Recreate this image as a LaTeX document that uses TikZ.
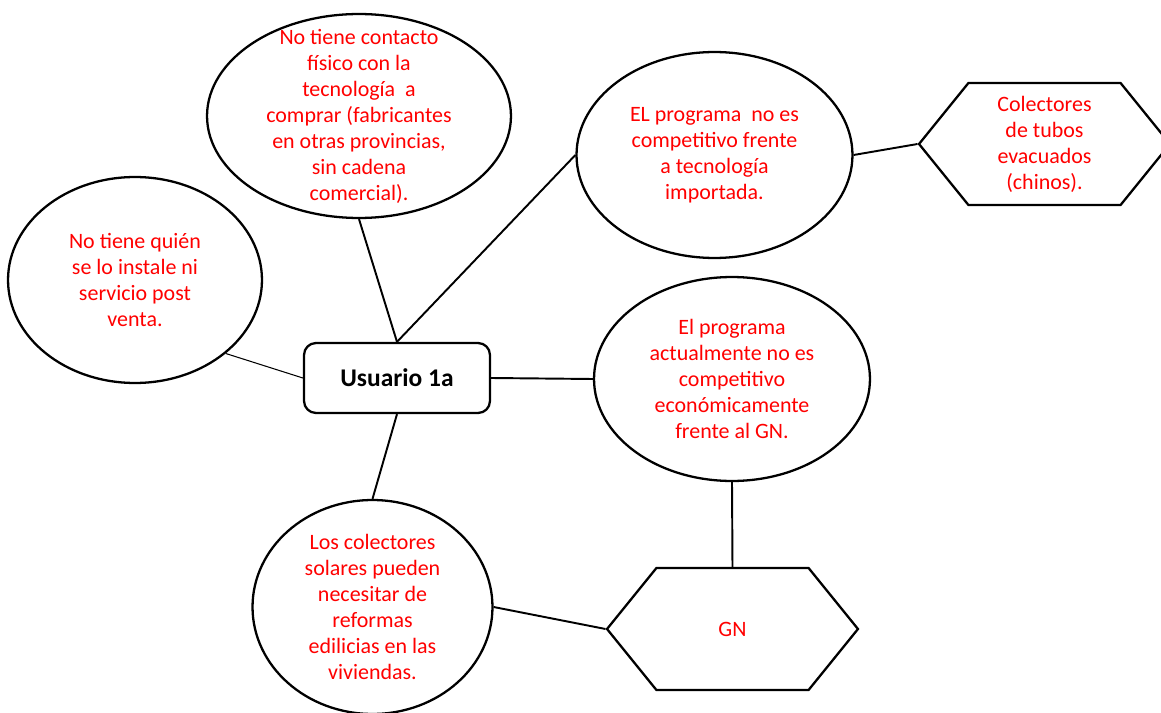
\documentclass[tikz,border=0pt]{standalone}
\usepackage{fontspec}
\setmainfont{Carlito}
\usepackage{tikz}
\usetikzlibrary{shapes.geometric}
\usetikzlibrary{shapes.symbols}
\usetikzlibrary{positioning}
\tikzset{txt/.style = {text=red,align=center,inner sep=0pt,font=\fontsize{12.5}{14.8}\selectfont}}
\tikzset{bubble/.style = {shape=ellipse,draw,line width=1.3pt,inner sep=0pt}}
\tikzset{hexa/.style = {shape=signal,signal to=west and east,signal pointer angle=102,draw,line width=1.3pt,minimum width=5.02cm,minimum height=2.44cm,inner sep=0pt,txt}}
\tikzset{usr/.style = {shape=rectangle,draw,line width=1.3pt,rounded corners=0.24cm,minimum width=3.72cm,minimum height=1.4cm,font=\fontsize{14.5}{17}\selectfont\bfseries}}
\tikzset{link/.style = {line width=1.1pt}}

\begin{document}
\begin{tikzpicture}[x=0.02cm,y=-0.02cm]
    \useasboundingbox (0,0) rectangle (1161,713);
    \clip (0,0) rectangle (1161,713);

    \node[usr] (u) at (397,378) {Usuario 1a};

    \node[bubble, minimum width=6.08cm, minimum height=4.08cm,
          label={[txt]center:No tiene contacto\\físico con la\\tecnología~ a\\comprar (fabricantes\\en otras provincias,\\sin cadena\\comercial).}] (t) at (359,116) {};
    \node[bubble, minimum width=5.08cm, minimum height=4.12cm,
          label={[txt]center:No tiene quién\\se lo instale ni\\servicio post\\venta.}] (l) at (135,280) {};
    \node[bubble, minimum width=5.52cm, minimum height=4.12cm,
          label={[txt]center:EL programa~ no es\\competitivo frente\\a tecnología\\importada.}] (tr) at (714.5,155) {};
    \node[bubble, minimum width=5.52cm, minimum height=4.08cm,
          label={[txt]center:El programa\\actualmente no es\\competitivo\\económicamente\\frente al GN.}] (r) at (732,379) {};
    \node[bubble, minimum width=4.8cm, minimum height=4.28cm,
          label={[txt]center:Los colectores\\solares pueden\\necesitar de\\reformas\\edilicias en las\\viviendas.}] (b) at (372.5,607) {};

    \node[hexa] (h) at (1044.5,144) {Colectores\\de tubos\\evacuados\\(chinos).};
    \node[hexa] (gn) at (732.5,629) {GN};

    \draw[link] (u.north) -- (t.south);
    \draw[link] (u.north) -- (tr.west);
    \draw[link, line width=0.6pt] (u.west) -- (l.-39);
    \draw[link] (u.east) -- (r.west);
    \draw[link] (u.south) -- (b.north);
    \draw[link] (tr.east) -- (h.west);
    \draw[link] (r.south) -- (gn.north);
    \draw[link] (b.east) -- (gn.west);
\end{tikzpicture}
\end{document}
